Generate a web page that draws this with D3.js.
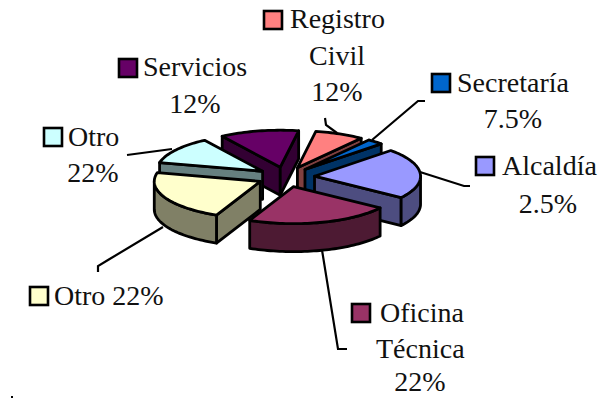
<!DOCTYPE html>
<html>
<head>
<meta charset="utf-8">
<script src="https://cdn.jsdelivr.net/npm/d3@7"></script>
<style>
html,body{margin:0;padding:0;background:#fff;}
text{font-family:"Liberation Serif","Times New Roman",serif;font-size:28px;fill:#111;}
</style>
</head>
<body>
<svg id="chart" width="608" height="398"></svg>
<script>
// slice order goes clockwise starting at registro
const categories = ['Registro Civil','Secretaría','Alcaldía','Oficina Técnica','Otro','Otro','Servicios'];
// the printed labels sit one step off from the slices they belong to, so keep both
const shares = [7.5,2.5,22,22,22,12,12];
const printed = ['12%','7.5%','2.5%','22%','22%','22%','12%'];
const colors = ['#FF8080','#0066CC','#9999FF','#993366','#FFFFCC','#CCFFFF','#660066'];

const W=608,H=398;
const svg = d3.select('#chart');

const cx=286,cy=177,rx=106,ry=37,depth=28,explode=0.27;
const x = d3.scaleLinear().domain([-1,1]).range([cx-rx,cx+rx]);
const y = d3.scaleLinear().domain([-1,1]).range([cy-ry,cy+ry]);
const zOff = d3.scaleLinear().domain([0,1]).range([0,depth]);

function proj(px,py,z) {
    return [x(px), y(py)+zOff(z)];
}

const pie = d3.pie().sort(null).value(d=>d)
    .startAngle(10*Math.PI/180).endAngle(370*Math.PI/180);
const arcs = pie(shares);
const line = d3.line();

const slices = arcs.map((a,i) => {
    const mid=(a.startAngle+a.endAngle)/2;
    return {
        i, a0:a.startAngle, a1:a.endAngle, mid,
        ox:explode*Math.sin(mid), oy:-explode*Math.cos(mid),
        color:colors[i]
    };
});

function rim(s,a,z) { return proj(s.ox+Math.sin(a),s.oy-Math.cos(a),z); }
function tip(s,z) { return proj(s.ox,s.oy,z); }
function arcPts(s,a0,a1,z) {
    const n=Math.max(2,Math.ceil((a1-a0)/0.03));
    return d3.range(n+1).map(k => rim(s,a0+(a1-a0)*k/n,z));
}

// leader lines go under the pie, they run in behind the slices
const leaders = [
    [[325,118],[326,125],[337,133]],
    [[425,101],[418,101],[372,140]],
    [[420,172],[464,186],[470,186]],
    [[322,250],[338,349],[347,349]],
    [[163,227],[108,260],[98,266],[98,272]],
    [[127,155],[172,149]],
    [[11,397],[13,397]] // stray speck bottom left of the scan
];
svg.append('g').selectAll('path').data(leaders).join('path')
    .attr('d',d=>line(d)).attr('fill','none').attr('stroke','#000').attr('stroke-width',2.2);

const draw = svg.append('g').attr('stroke','#000').attr('stroke-width',2.8).attr('stroke-linejoin','round');

function face(pts,fill) {
    draw.append('path').attr('d',line(pts)+'Z').attr('fill',fill);
}

// back to front
slices.slice().sort((p,q)=>d3.descending(Math.cos(p.mid),Math.cos(q.mid))).forEach(s => {
    const dark = d3.rgb(s.color);
    const side = d3.rgb(dark.r*0.5,dark.g*0.5,dark.b*0.5).formatHex();
    if (Math.sin(s.a0)<0) face([tip(s,0),rim(s,s.a0,0),rim(s,s.a0,1),tip(s,1)],side);
    if (Math.sin(s.a1)>0) face([tip(s,0),rim(s,s.a1,0),rim(s,s.a1,1),tip(s,1)],side);
    // outer wall only where it faces us
    const from=Math.max(s.a0,Math.PI/2),to=Math.min(s.a1,Math.PI*1.5);
    if (to>from) face(arcPts(s,from,to,0).concat(arcPts(s,from,to,1).reverse()),side);
    face([tip(s,0)].concat(arcPts(s,s.a0,s.a1,0)),s.color);
});

// label layout: key box, then rows of text
const labelLayout = [
    {key:[264,11],rows:[['Registro',290,28,'start'],['Civil',337,65,'middle'],[printed[0],337,101,'middle']]},
    {key:[432,74],rows:[['Secretaría',457,92,'start'],[printed[1],513,128,'middle']]},
    {key:[476,157],rows:[['Alcaldía',502,175,'start'],[printed[2],548,213,'middle']]},
    {key:[352,304],rows:[['Oficina',380,322,'start'],['Técnica',376,358,'start'],[printed[3],420,391,'middle']]},
    {key:[30,287],rows:[['Otro '+printed[4],54,305,'start']]},
    {key:[44,128],rows:[['Otro',68,146,'start'],[printed[5],93,182,'middle']]},
    {key:[119,59],rows:[['Servicios',143,76,'start'],[printed[6],195,113,'middle']]}
];
labelLayout.forEach((l,i) => {
    svg.append('rect').attr('x',l.key[0]).attr('y',l.key[1]).attr('width',18).attr('height',18)
        .attr('fill',colors[i]).attr('stroke','#000').attr('stroke-width',2.6);
    l.rows.forEach(r => {
        svg.append('text').attr('x',r[1]).attr('y',r[2]).attr('text-anchor',r[3]).text(r[0]);
    });
});
</script>
</body>
</html>
